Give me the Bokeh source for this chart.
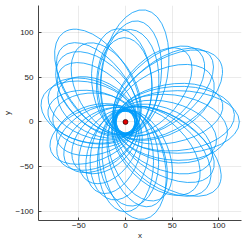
import numpy as np
from bokeh.plotting import figure
from bokeh.models import Range1d, FixedTicker
from bokeh.embed import file_html
from bokeh.resources import INLINE

# Each loop of the orbit: direction of apoapsis (deg), apoapsis distance, periapsis distance
loop_angle_deg = [80, 83, 87, 95, 91,
                  124, 129, 134, 119, 140,
                  165, 158, 171, 177, 152,
                  -158, -150, -143, -165, -136,
                  -122, -110, -100,
                  -79, -73, -85, -67, -90,
                  -36, -40, -31, -25, -45,
                  0, 4, -7, 11, -14,
                  34, 39, 44, 28, 50]
loop_apo = [124, 111, 101, 102, 92,
            118, 106, 98, 96, 90,
            93, 88, 84, 78, 80,
            86, 82, 78, 76, 72,
            76, 82, 86,
            108, 96, 92, 92, 98,
            122, 113, 108, 101, 104,
            122, 117, 110, 106, 100,
            121, 116, 110, 105, 100]
loop_peri = [11, 10, 12, 11, 10,
             11, 10, 12, 11, 10,
             12, 11, 10, 12, 11,
             10, 12, 11, 10, 12,
             11, 10, 12,
             11, 10, 12, 11, 10,
             11, 12, 10, 11, 12,
             10, 11, 12, 10, 11,
             12, 10, 11, 12, 10]

body_x = [0]
body_y = [0]

x_ticks = [-50, 0, 50, 100]
y_ticks = [-100, -50, 0, 50, 100]

th = np.radians(loop_angle_deg)
ra = np.array(loop_apo, dtype=float)
rp = np.array(loop_peri, dtype=float)
a = (ra + rp) / 2
c = (ra - rp) / 2
b = np.sqrt(ra * rp)

p = figure(width=242, height=242, output_backend="svg", toolbar_location=None,
           x_range=Range1d(-93.2, 124.3), y_range=Range1d(-110.0, 130.0),
           min_border_left=36, min_border_right=1, min_border_top=5, min_border_bottom=0)
p.outline_line_color = None
p.background_fill_color = "white"
p.border_fill_color = "white"

p.ellipse(x=c * np.cos(th), y=c * np.sin(th), width=2 * a, height=2 * b, angle=th,
          fill_color=None, line_color="#009AFA", line_width=0.8)
p.scatter(body_x, body_y, size=5, fill_color="#E00000", line_color="black", line_width=0.6)

p.xaxis.ticker = FixedTicker(ticks=x_ticks)
p.yaxis.ticker = FixedTicker(ticks=y_ticks)
p.xaxis.axis_label = "x"
p.yaxis.axis_label = "y"
for ax in (p.xaxis, p.yaxis):
    ax.axis_line_color = "#444444"
    ax.axis_line_width = 1
    ax.major_tick_in = 3
    ax.major_tick_out = 0
    ax.major_tick_line_color = "#444444"
    ax.minor_tick_line_color = None
    ax.major_label_text_font = "Liberation Sans"
    ax.major_label_text_font_size = "8px"
    ax.major_label_text_color = "#222222"
    ax.axis_label_text_font = "Liberation Sans"
    ax.axis_label_text_font_size = "8px"
    ax.axis_label_text_font_style = "normal"
    ax.axis_label_text_color = "#222222"
    ax.axis_label_standoff = 0
p.xaxis.major_label_standoff = 2
p.yaxis.major_label_standoff = 5
p.yaxis.major_label_orientation = "horizontal"
p.grid.grid_line_color = "black"
p.grid.grid_line_alpha = 0.08
p.grid.grid_line_width = 1

open("out.html", "w").write(file_html(p, INLINE))
